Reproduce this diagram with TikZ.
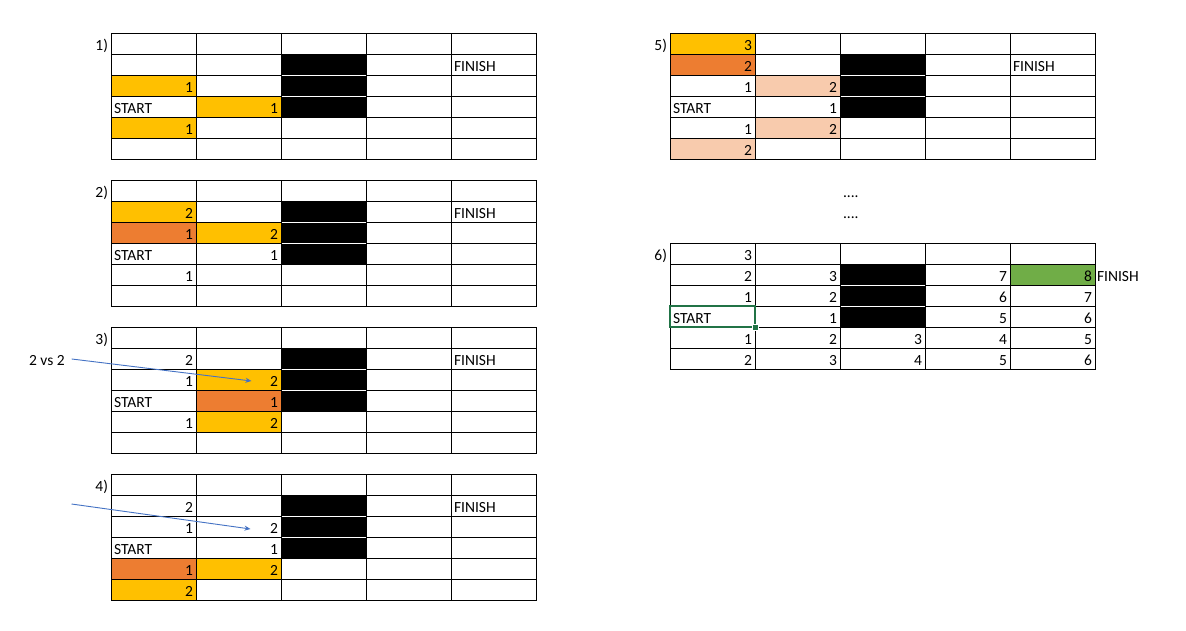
\documentclass[tikz,border=0pt]{standalone}
\usepackage{fontspec}
\setmainfont{Carlito}
\usepackage{xcolor}
\definecolor{cellGold}{HTML}{FFC000}
\definecolor{cellOrange}{HTML}{ED7D31}
\definecolor{cellPeach}{HTML}{F8CBAD}
\definecolor{cellGreen}{HTML}{70AD47}
\definecolor{selectGreen}{HTML}{217346}
\definecolor{arrowBlue}{HTML}{4472C4}
\usepackage{tikz}
\usetikzlibrary{
    arrows.meta,
    positioning,
    calc
}
\tikzset{
    % Base style for all spreadsheet text
    sheet text/.style={
        font=\fontsize{15.5}{18}\selectfont,
        inner xsep=3pt,
        inner ysep=0pt,
        outer sep=0pt,
        text height=15.5pt,
        text depth=1.5pt,
    },
    % Grid cell - numbers sit at the right
    cell/.style={
        sheet text,
        rectangle,
        draw=black,
        line width=0.9pt,
        text width=79pt,
        minimum height=21pt,
        align=right,
    },
    % Text cells (START, FINISH) - left aligned
    text cell/.style={
        cell,
        align=left,
    },
    % Wall cells
    wall/.style={cell, fill=black},
    % Thin white line between wall cells
    wall gap/.style={
        draw=white,
        line width=0.8pt,
        shorten <=0.5pt,
        shorten >=0.5pt,
    },
    % Coloured cells of the search
    frontier/.style={cell, fill=cellGold},
    current/.style={cell, fill=cellOrange},
    visited/.style={cell, fill=cellPeach},
    goal/.style={cell, fill=cellGreen},
    % Selected cell - green frame with a small handle
    selected/.style={
        text cell,
        draw=selectGreen,
        line width=2pt,
    },
    handle/.style={
        rectangle,
        fill=selectGreen,
        draw=white,
        line width=0.6pt,
        minimum size=6pt,
        inner sep=0pt,
    },
    % Step number left of each grid
    grid label/.style={
        sheet text,
        anchor=east,
    },
    % Blue pointer arrow
    pointer/.style={
        -{Stealth[length=6pt, width=5pt]},
        draw=arrowBlue,
        line width=0.9pt,
    },
}

\begin{document}
\begin{tikzpicture}[x=1pt, y=-1pt]
    \useasboundingbox[fill=white] (0,0) rectangle (1186,631);

    % Empty grids with the wall and the step number
    \foreach \t/\ox/\oy in {1/111/33, 2/111/180, 3/111/327, 4/111/474, 5/670/33, 6/670/243} {
        \foreach \c in {1,...,5}
            \foreach \r in {1,...,6}
                \node[cell] (t\t-\c-\r) at ({\ox+85*\c-42.5}, {\oy+21*\r-10.5}) {};
        \foreach \r in {2,3,4}
            \node[wall] at (t\t-3-\r) {};
        \draw[wall gap] (t\t-3-2.south west) -- (t\t-3-2.south east);
        \draw[wall gap] (t\t-3-3.south west) -- (t\t-3-3.south east);
        \node[grid label] at (t\t-1-1.west) {\t)};
    }
    \foreach \t in {1,...,5} {
        \node[text cell] at (t\t-1-4) {START};
        \node[text cell] at (t\t-5-2) {FINISH};
    }

    % Step 1
    \node[frontier] at (t1-1-3) {1};
    \node[frontier] at (t1-2-4) {1};
    \node[frontier] at (t1-1-5) {1};

    % Step 2
    \node[frontier] at (t2-1-2) {2};
    \node[current] at (t2-1-3) {1};
    \node[frontier] at (t2-2-3) {2};
    \node[cell] at (t2-2-4) {1};
    \node[cell] at (t2-1-5) {1};

    % Step 3
    \node[cell] at (t3-1-2) {2};
    \node[cell] at (t3-1-3) {1};
    \node[frontier] at (t3-2-3) {2};
    \node[current] at (t3-2-4) {1};
    \node[cell] at (t3-1-5) {1};
    \node[frontier] at (t3-2-5) {2};

    % Step 4
    \node[cell] at (t4-1-2) {2};
    \node[cell] at (t4-1-3) {1};
    \node[cell] at (t4-2-3) {2};
    \node[cell] at (t4-2-4) {1};
    \node[current] at (t4-1-5) {1};
    \node[frontier] at (t4-2-5) {2};
    \node[frontier] at (t4-1-6) {2};

    % Step 5
    \node[frontier] at (t5-1-1) {3};
    \node[current] at (t5-1-2) {2};
    \node[cell] at (t5-1-3) {1};
    \node[visited] at (t5-2-3) {2};
    \node[cell] at (t5-2-4) {1};
    \node[cell] at (t5-1-5) {1};
    \node[visited] at (t5-2-5) {2};
    \node[visited] at (t5-1-6) {2};
    \node[text cell, draw=none, below=21pt of t5-3-6] (dots1) {....};
    \node[text cell, draw=none, below=0pt of dots1] (dots2) {....};

    % Step 6 - final distances
    \node[cell] at (t6-1-1) {3};
    \node[cell] at (t6-1-2) {2};
    \node[cell] at (t6-2-2) {3};
    \node[cell] at (t6-4-2) {7};
    \node[goal] (goal6) at (t6-5-2) {8};
    \node[cell] at (t6-1-3) {1};
    \node[cell] at (t6-2-3) {2};
    \node[cell] at (t6-4-3) {6};
    \node[cell] at (t6-5-3) {7};
    \node[cell] at (t6-2-4) {1};
    \node[cell] at (t6-4-4) {5};
    \node[cell] at (t6-5-4) {6};
    \node[cell] at (t6-1-5) {1};
    \node[cell] at (t6-2-5) {2};
    \node[cell] at (t6-3-5) {3};
    \node[cell] at (t6-4-5) {4};
    \node[cell] at (t6-5-5) {5};
    \node[cell] at (t6-1-6) {2};
    \node[cell] at (t6-2-6) {3};
    \node[cell] at (t6-3-6) {4};
    \node[cell] at (t6-4-6) {5};
    \node[cell] at (t6-5-6) {6};
    \node[selected] (start6) at (t6-1-4) {START};
    \node[handle] at (start6.south east) {};
    \node[sheet text, inner xsep=2pt, right=0pt of goal6] (finish6) {FINISH};

    % Notes with arrows
    \node[sheet text, anchor=west] (vs) at (26,358.5) {2 vs 2};
    \coordinate (vs-tip) at (251.5,381);
    \coordinate (arr4-tail) at (71.5,504);
    \coordinate (arr4-tip) at (250.5,529);
    \draw[pointer, shorten <=4pt] (vs.east) -- (vs-tip);
    \draw[pointer] (arr4-tail) -- (arr4-tip);
\end{tikzpicture}
\end{document}
